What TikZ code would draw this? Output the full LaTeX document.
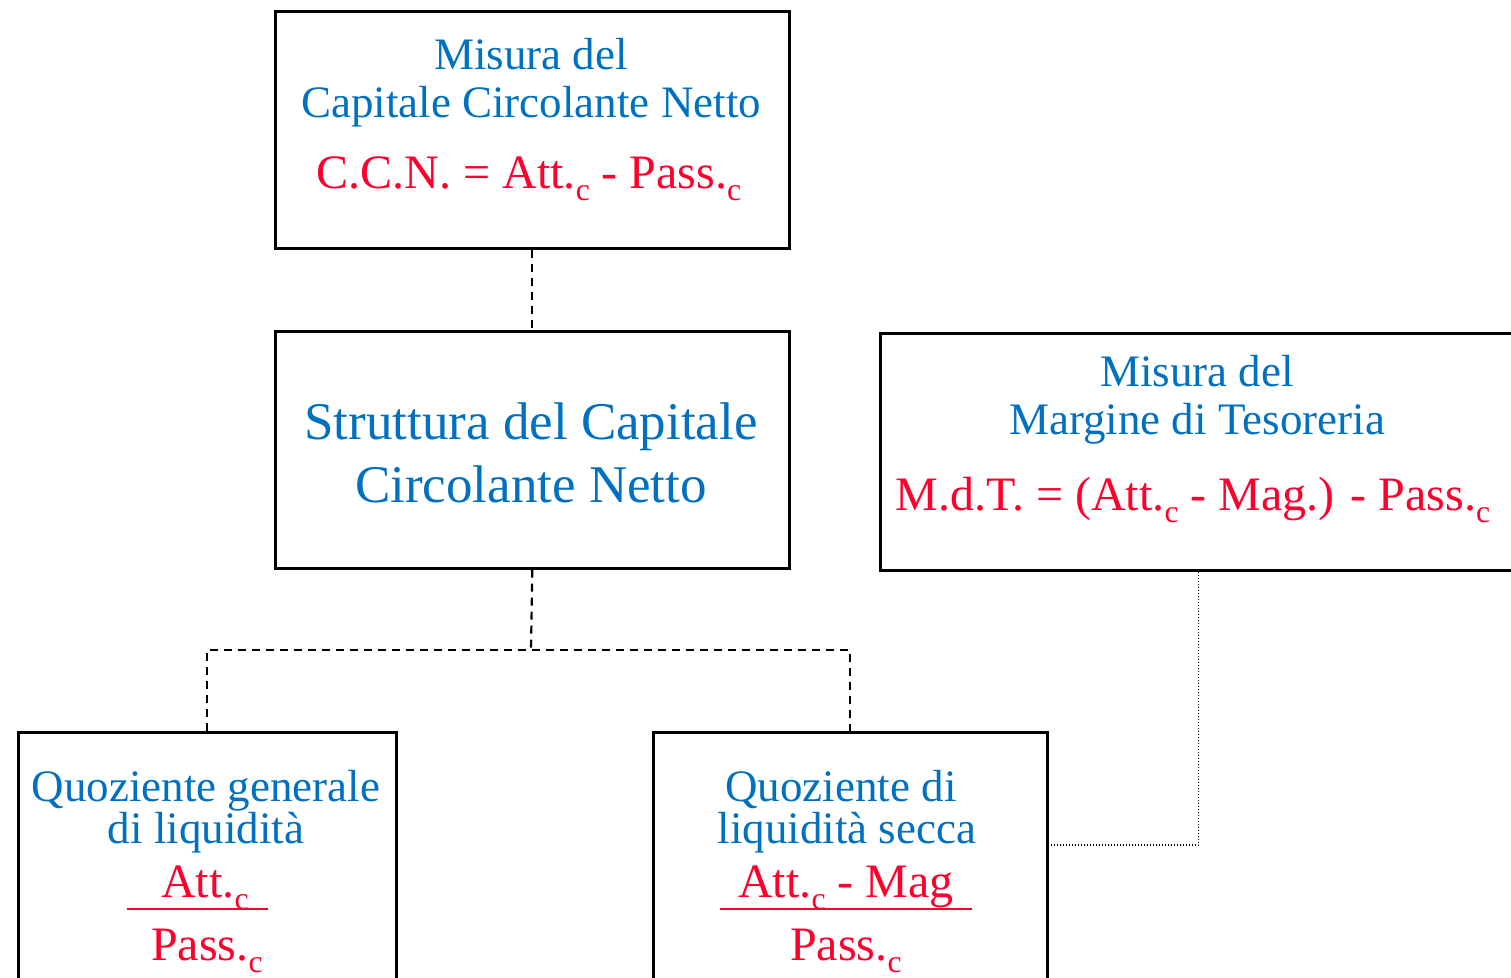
\documentclass[tikz,border=0pt]{standalone}
\usepackage{fontspec}
\setmainfont{Liberation Serif}
\usetikzlibrary{calc}
\definecolor{tblue}{RGB}{0,112,192}
\definecolor{tred}{RGB}{255,0,45}
\newcommand{\subc}{\raisebox{-0.25em}{\scalebox{0.66}{c}}}
\begin{document}
\begin{tikzpicture}[x=0.5pt,y=-0.5pt,
  box/.style={draw, line width=1.35pt, anchor=north west, inner sep=0pt},
  bt/.style={text=tblue, font=\fontsize{22.5}{27}\selectfont, anchor=base, inner sep=0pt},
  btbig/.style={text=tblue, font=\fontsize{26.5}{31}\selectfont, anchor=base, inner sep=0pt},
  rt/.style={text=tred, font=\fontsize{24}{29}\selectfont, anchor=base, inner sep=0pt},
  fracline/.style={draw=tred, line width=1pt},
  dashc/.style={dash pattern=on 4pt off 3pt, line width=1.1pt},
  dotc/.style={dash pattern=on 0.5pt off 1pt, line width=0.7pt}]
\useasboundingbox (0,0) rectangle (1511,978);
\clip (0,0) rectangle (1511,978);
% boxes
\node[box, minimum width=257pt, minimum height=118.5pt] (top) at (274,10) {};
\node[box, minimum width=257pt, minimum height=118.5pt] (mid) at (274,330) {};
\node[box, minimum width=318pt, minimum height=118.5pt] (right) at (879,332) {};
\node[box, minimum width=189pt, minimum height=150pt] (bl) at (17,731) {};
\node[box, minimum width=197pt, minimum height=150pt] (bm) at (652,731) {};
% top text
\node[bt] (t1) at (531,70) {Misura del};
\node[bt] (t2) at (531,118) {Capitale Circolante Netto};
\node[rt] (t3) at (529,189) {C.C.N. = Att.\subc{} - Pass.\subc};
% middle text
\node[btbig] (m1) at (531,440) {Struttura del Capitale};
\node[btbig] (m2) at (531,503) {Circolante Netto};
% right text
\node[bt] (r1) at (1197,387) {Misura del};
\node[bt] (r2) at (1197,435) {Margine di Tesoreria};
\node[rt] (r3) at (1193,511) {M.d.T. = (Att.\subc{} - Mag.) - Pass.\subc};
% bottom-left text
\node[bt] (l1) at (206,801) {Quoziente generale};
\node[bt] (l2) at (206,843) {di liquidità};
\node[rt] (l3) at (205,897) {Att.\subc};
\node[rt] (l4) at (207,960) {Pass.\subc};
\coordinate (la) at (127,909);
\coordinate (lb) at (268,909);
\draw[fracline] (la) -- (lb);
% bottom-mid text
\node[bt] (b1) at (841,801) {Quoziente di};
\node[bt] (b2) at (847,843) {liquidità secca};
\node[rt] (b3) at (846,897) {Att.\subc{} - Mag};
\node[rt] (b4) at (846,960) {Pass.\subc};
\coordinate (ba) at (720,909);
\coordinate (bb) at (972,909);
\draw[fracline] (ba) -- (bb);
% connectors
\coordinate (j) at (531,650);
\draw[dashc] (top.south) -- (mid.north);
\draw[dashc] (mid.south) -- (j);
\draw[dashc] (bl.north) |- (j) -| (bm.north);
\draw[dotc] (right.south) |- ($(bm.north east)+(0,114)$);
\end{tikzpicture}
\end{document}
